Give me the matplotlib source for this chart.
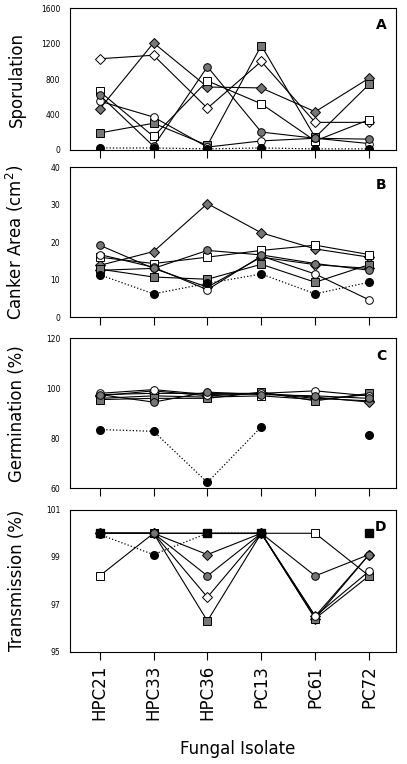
import numpy as np
import matplotlib.pyplot as plt

isolates = ['HPC21', 'HPC33', 'HPC36', 'PC13', 'PC61', 'PC72']
nan = np.nan

# sporulation (panel A)
spor_open_diamond = [1030, 1070, 470, 1000, 310, 310]
spor_grey_diamond = [460, 1210, 710, 700, 430, 810]
spor_open_square = [660, 150, 780, 520, 100, 340]
spor_grey_square = [190, 300, 50, 1180, 140, 740]
spor_open_circle = [550, 370, 30, 100, 130, 70]
spor_grey_circle = [620, 40, 940, 200, 130, 120]
spor_black_circle = [20, 20, 10, 20, 10, 10]

# canker area (panel B)
cank_open_diamond = [12.5, 13.0, 8.0, 16.0, 14.0, 13.0]
cank_grey_diamond = [13.8, 17.5, 30.3, 22.5, 18.2, 16.0]
cank_open_square = [16.0, 14.3, 16.0, 17.8, 19.2, 16.7]
cank_grey_square = [12.8, 10.7, 10.1, 14.1, 9.3, 14.0]
cank_open_circle = [16.7, 13.3, 7.3, 16.3, 11.5, 4.6]
cank_grey_circle = [19.2, 13.0, 17.8, 16.6, 14.3, 12.5]
cank_black_circle = [11.3, 6.2, 9.0, 11.5, 6.2, 9.3]

# germination (panel C)
germ_open_diamond = [97.0, 99.0, 97.0, 98.0, 96.0, 95.0]
germ_grey_diamond = [97.5, 98.0, 98.0, 98.0, 96.5, 94.5]
germ_open_square = [96.0, 97.0, 96.5, 97.0, 95.5, 97.5]
germ_grey_square = [95.5, 96.0, 96.0, 98.5, 95.0, 98.0]
germ_open_circle = [98.0, 99.5, 97.5, 98.0, 99.0, 97.0]
germ_grey_circle = [97.5, 94.5, 98.5, 97.5, 97.0, 96.0]
germ_black_circle = [83.5, 82.8, 62.3, 84.6, nan, 81.2]

# transmission (panel D)
trans_open_diamond = [100, 100, 97.3, 100, 96.4, 99.1]
trans_grey_diamond = [100, 100, 99.1, 100, 96.5, 99.1]
trans_open_square = [98.2, 100, 100, 100, 100, 98.2]
trans_grey_square = [100, 100, 96.3, 100, 96.4, 98.2]
trans_open_circle = [100, 100, 100, 100, 96.5, 98.4]
trans_grey_circle = [100, 100, 98.2, 100, 98.2, 99.1]
trans_black_circle = [99.95, 99.1, 100, 100, nan, 100]
trans_black_square = [100, nan, 100, 100, nan, 100]

GREY = '#767676'
styles = [
    ('D', 'white'), ('D', GREY), ('s', 'white'), ('s', GREY),
    ('o', 'white'), ('o', GREY),
]

panels = [
    ('Sporulation', 'A', (0, 1600), [0, 400, 800, 1200, 1600],
     [spor_open_diamond, spor_grey_diamond, spor_open_square, spor_grey_square,
      spor_open_circle, spor_grey_circle], spor_black_circle, None),
    ('Canker Area (cm$^2$)', 'B', (0, 40), [0, 10, 20, 30, 40],
     [cank_open_diamond, cank_grey_diamond, cank_open_square, cank_grey_square,
      cank_open_circle, cank_grey_circle], cank_black_circle, None),
    ('Germination (%)', 'C', (60, 120), [60, 80, 100, 120],
     [germ_open_diamond, germ_grey_diamond, germ_open_square, germ_grey_square,
      germ_open_circle, germ_grey_circle], germ_black_circle, None),
    ('Transmission (%)', 'D', (95, 101), [95, 97, 99, 101],
     [trans_open_diamond, trans_grey_diamond, trans_open_square, trans_grey_square,
      trans_open_circle, trans_grey_circle], trans_black_circle, trans_black_square),
]

# axes boxes in figure fraction [left, bottom, width, height]
boxes = [
    [0.172, 0.804, 0.801, 0.185],
    [0.172, 0.585, 0.801, 0.196],
    [0.172, 0.361, 0.801, 0.196],
    [0.172, 0.147, 0.801, 0.186],
]

fig = plt.figure(figsize=(4.07, 7.64), dpi=100)
x = np.arange(len(isolates))

for box, (ylabel, letter, ylim, yticks, series, black, black_sq) in zip(boxes, panels):
    ax = fig.add_axes(box)
    for (mk, fc), vals in zip(styles, series):
        ax.plot(x, vals, '-', color='black', lw=0.8, marker=mk, ms=5.5 if mk != 'D' else 5,
                mfc=fc, mec='black', mew=0.7, zorder=3)
    ax.plot(x, black, ':', color='black', lw=0.9, marker='o', ms=5.5,
            mfc='black', mec='black', zorder=4)
    if black_sq is not None:
        ax.plot(x, black_sq, '-', color='black', lw=0.8, marker='s', ms=6,
                mfc='black', mec='black', zorder=5)
    ax.set_xlim(-0.55, 5.5)
    ax.set_ylim(*ylim)
    ax.set_yticks(yticks)
    ax.tick_params(axis='y', labelsize=5.5, length=0, pad=7)
    ax.set_xticks(x)
    ax.tick_params(axis='x', direction='out', length=6, width=0.8)
    ax.set_ylabel(ylabel, fontsize=12)
    ax.yaxis.set_label_coords(-0.135, 0.5)
    ax.text(0.97, 0.93, letter, transform=ax.transAxes, ha='right', va='top',
            fontsize=10, fontweight='bold')
    for sp in ax.spines.values():
        sp.set_linewidth(0.8)
    if letter == 'D':
        ax.set_xticklabels(isolates, rotation=90, fontsize=12)
    else:
        ax.set_xticklabels([])

fig.text(0.585, 0.008, 'Fungal Isolate', ha='center', va='bottom', fontsize=12)
fig.savefig('out.png', dpi=100)
